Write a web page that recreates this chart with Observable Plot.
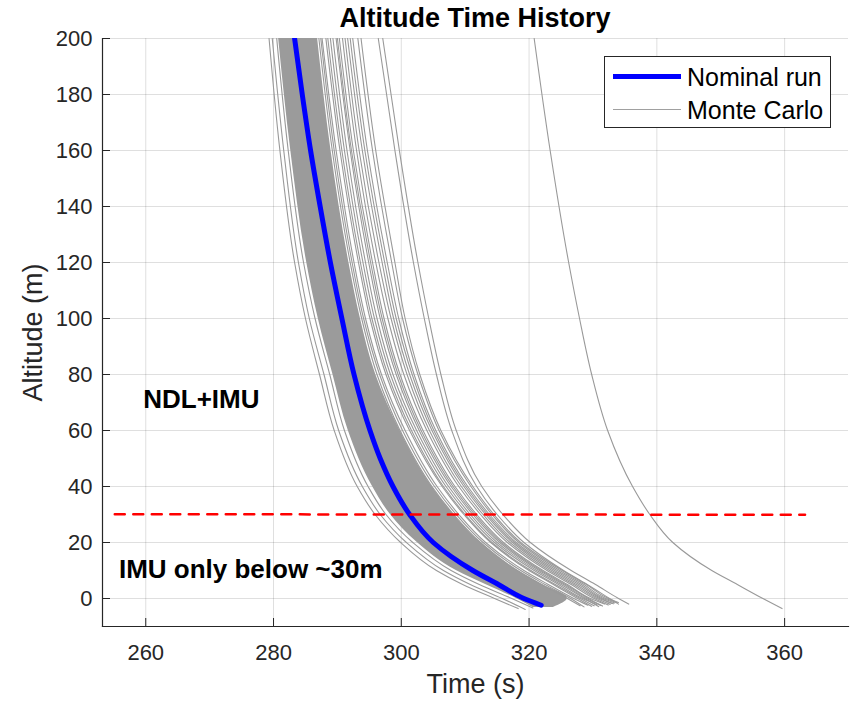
<!DOCTYPE html>
<html>
<head>
<meta charset="utf-8">
<script src="https://cdn.jsdelivr.net/npm/d3@7"></script>
<script src="https://cdn.jsdelivr.net/npm/@observablehq/plot@0.6"></script>
<style>
  body { margin: 0; background: #fff; }
  #wrap { position: relative; width: 854px; height: 702px; font-family: "Liberation Sans", Arial, Helvetica, sans-serif; }
  #chart { position: absolute; left: 0; top: 0; }
  #title { position: absolute; left: 102px; width: 746px; top: 5px; text-align: center; font-weight: bold; font-size: 27px; line-height: 27px; color: #000; }
  #legend { position: absolute; left: 604px; top: 56px; width: 227px; height: 72px; box-sizing: border-box; border: 1px solid #262626; background: #fff; }
  .lg-line { position: absolute; }
  .lg-text { position: absolute; font-size: 25px; line-height: 25px; color: #000; white-space: nowrap; }
</style>
</head>
<body>
<div id="wrap">
  <div id="chart"></div>
  <div id="title"></div>
  <div id="legend"></div>
</div>
<script>
// ---- Data ----
const titleText = "Altitude Time History";
const xLabel = "Time (s)";
const yLabel = "Altitude (m)";
const xTicks = [260, 280, 300, 320, 340, 360];
const yTicks = [0, 20, 40, 60, 80, 100, 120, 140, 160, 180, 200];
const xDomain = [253.23, 370];
const yDomain = [-10, 200];

// Nominal run
const nominalTime = [283.3, 284.5, 285.8, 287.3, 288.9, 290.7, 292.6, 295.1, 296.7, 298.7, 301.3, 305.0, 307.8, 311.2, 315.2, 319.2, 321.9];
const nominalAlt  = [200, 180, 160, 140, 120, 100, 80, 60, 50, 40, 30, 20, 15, 10, 5, 0, -2.4];

// Monte Carlo: densely packed core of runs (left / right edge of the solid band)
const bandAlt   = [200, 160, 120, 100, 80, 60, 40, 30, 20, 10, 5, 0, -3.2];
const bandLeft  = [280.8, 282.7, 285.2, 287.0, 289.3, 291.7, 295.5, 298.3, 302.5, 308.6, 313.2, 318.0, 320.6];
const bandRight = [286.9, 289.0, 291.8, 293.6, 296.0, 299.8, 304.8, 308.2, 312.4, 318.2, 322.0, 326.0, 323.8];

// Monte Carlo: individually visible runs, time at each altitude level
const mcAltLevels = [200, 160, 120, 100, 80, 60, 40, 30, 20, 10, 5, 0];
const mcTimes = [
  [279.3, 281.0, 283.3, 285.0, 287.2, 289.5, 293.1, 295.9, 299.9, 305.5, 309.6, 314.6],
  [279.8, 281.6, 283.9, 285.6, 287.9, 290.2, 293.9, 296.7, 300.8, 306.6, 310.8, 315.8],
  [280.5, 282.3, 284.7, 286.5, 288.8, 291.1, 294.8, 297.6, 301.8, 307.8, 312.2, 317.3],
  [287.1, 289.2, 292.0, 293.8, 296.2, 299.8, 304.8, 308.2, 312.4, 318.2, 322.0, 326.0],
  [287.4, 289.5, 292.3, 294.1, 296.6, 300.2, 305.2, 308.6, 312.8, 318.7, 322.5, 326.5],
  [287.6, 289.8, 292.6, 294.4, 296.9, 300.6, 305.6, 309.0, 313.2, 319.2, 323.0, 327.0],
  [288.2, 290.4, 293.3, 295.1, 297.6, 301.3, 306.4, 309.8, 314.0, 320.0, 323.8, 327.6],
  [288.5, 290.7, 293.6, 295.4, 297.9, 301.6, 306.6, 310.0, 314.2, 320.3, 324.1, 328.0],
  [288.9, 291.1, 294.0, 295.8, 298.3, 302.0, 307.0, 310.4, 314.6, 320.8, 324.6, 328.4],
  [289.3, 291.5, 294.4, 296.2, 298.7, 302.4, 307.4, 310.8, 315.0, 321.2, 325.0, 328.7],
  [289.8, 292.0, 294.9, 296.7, 299.2, 302.8, 307.8, 311.2, 315.4, 321.6, 325.4, 329.0],
  [290.0, 292.2, 295.2, 297.0, 299.5, 303.1, 308.1, 311.5, 315.7, 321.9, 325.7, 329.3],
  [290.3, 292.5, 295.5, 297.3, 299.8, 303.4, 308.4, 311.8, 316.0, 322.2, 326.0, 329.6],
  [290.8, 293.0, 296.0, 297.9, 300.4, 304.0, 309.0, 312.4, 316.6, 322.8, 326.6, 330.2],
  [291.2, 293.4, 296.5, 298.4, 300.9, 304.4, 309.4, 312.8, 317.0, 323.2, 327.0, 330.6],
  [291.6, 293.9, 297.0, 298.8, 301.3, 304.8, 309.8, 313.2, 317.4, 323.6, 327.4, 331.0],
  [292.0, 294.3, 297.4, 299.2, 301.7, 305.1, 310.1, 313.5, 317.7, 324.0, 327.8, 331.3],
  [292.4, 294.7, 297.8, 299.6, 302.0, 305.4, 310.4, 313.8, 318.0, 324.4, 328.2, 331.6],
  [293.2, 295.5, 298.5, 300.2, 302.6, 305.9, 310.9, 314.2, 318.4, 324.8, 328.6, 332.0],
  [293.7, 296.0, 299.0, 300.6, 302.9, 306.2, 311.2, 314.5, 318.7, 325.2, 329.0, 332.4],
  [296.4, 299.0, 301.9, 303.6, 305.5, 307.9, 311.8, 315.0, 319.2, 325.4, 329.1, 332.6],
  [297.1, 299.7, 302.6, 304.3, 306.2, 308.6, 312.6, 315.9, 320.2, 326.6, 330.4, 334.0],
  [320.8, 323.3, 326.2, 327.9, 329.8, 332.3, 336.2, 338.9, 342.5, 348.6, 352.6, 356.6]
];
const mcEndTime = [318.3, 319.4, 320.6, 328.0, 328.6, 329.2, 329.8, 330.2, 330.6, 330.9, 331.2, 331.5, 331.8, 332.4, 332.7, 333.0, 333.2, 333.4, 333.8, 334.0, 334.0, 335.6, 359.6];
const mcEndAlt  = [-3.6, -3.9, -3.4, -2.6, -3.0, -2.4, -2.8, -2.6, -2.2, -2.9, -2.5, -2.7, -2.0, -2.3, -2.1, -1.8, -1.9, -1.6, -1.5, -1.4, -2.0, -2.0, -3.6];

// Sensor switch threshold line
const thresholdTime = [255.15, 363.2];
const thresholdAlt  = [30.1, 29.9];

// Annotations
const noteText = ["NDL+IMU", "IMU only below ~30m"];
const noteTime = [259.6, 255.8];
const noteAlt  = [71.1, 10.4];

// Legend
const legendLabels = ["Nominal run", "Monte Carlo"];
const legendColors = ["#0000ff", "#a0a0a0"];

// ---- Build tables ----
const nominalRows = nominalTime.map((t, i) => ({t, a: nominalAlt[i]}));
const bandRows = bandAlt.map((a, i) => ({a, left: bandLeft[i], right: bandRight[i]}));
const mcRows = mcTimes.flatMap((ts, r) => [
  ...mcAltLevels.map((a, j) => ({run: r, t: ts[j], a})),
  {run: r, t: mcEndTime[r], a: mcEndAlt[r]}
]);
const thresholdRows = thresholdTime.map((t, i) => ({t, a: thresholdAlt[i]}));
const noteRows = noteText.map((s, i) => ({s, t: noteTime[i], a: noteAlt[i]}));

const W = 854, H = 702, ML = 102, MR = 6, MT = 38, MB = 76;
const frameW = W - ML - MR, frameH = H - MT - MB;
const tickLen = 8;
const gray = "#999999";

const chart = Plot.plot({
  width: W, height: H,
  marginLeft: ML, marginRight: MR, marginTop: MT, marginBottom: MB,
  style: {fontFamily: '"Liberation Sans", Arial, Helvetica, sans-serif', fontSize: "22px", color: "#262626", background: "transparent", overflow: "visible"},
  x: {domain: xDomain, label: null},
  y: {domain: yDomain, label: null},
  marks: [
    Plot.gridX(xTicks, {stroke: "#262626", strokeOpacity: 0.15, strokeWidth: 1}),
    Plot.gridY(yTicks, {stroke: "#262626", strokeOpacity: 0.15, strokeWidth: 1}),
    Plot.areaX(bandRows, {y: "a", x1: "left", x2: "right", fill: "#9b9b9b", curve: "monotone-y", clip: true}),
    Plot.line(mcRows, {x: "t", y: "a", z: "run", stroke: gray, strokeWidth: 1.1, curve: "monotone-y", clip: true}),
    Plot.line(nominalRows, {x: "t", y: "a", stroke: "#0000ff", strokeWidth: 5, curve: "monotone-y", clip: true}),
    Plot.line(thresholdRows, {x: "t", y: "a", stroke: "#ff0000", strokeWidth: 2.5, strokeDasharray: "10,8.5"}),
    Plot.text(noteRows, {x: "t", y: "a", text: "s", textAnchor: "start", lineAnchor: "middle", fontWeight: "bold", fontSize: 26, fill: "#000"}),
    Plot.axisX(xTicks, {tickSize: 0, tickPadding: 18, fontSize: 22, label: null}),
    Plot.axisY(yTicks, {tickSize: 0, tickPadding: 10, fontSize: 22, label: null}),
    Plot.tickX(xTicks, {x: d => d, stroke: "#262626", strokeWidth: 1, insetTop: frameH - tickLen}),
    Plot.tickY(yTicks, {y: d => d, stroke: "#262626", strokeWidth: 1, insetRight: frameW - tickLen}),
    Plot.frame({anchor: "left", stroke: "#262626", strokeWidth: 1.2}),
    Plot.frame({anchor: "bottom", stroke: "#262626", strokeWidth: 1.2}),
    Plot.text([xLabel], {text: d => d, frameAnchor: "bottom", dy: 58, textAnchor: "middle", lineAnchor: "middle", fontSize: 27, fill: "#262626"}),
    Plot.text([yLabel], {text: d => d, frameAnchor: "left", dx: -69, rotate: -90, textAnchor: "middle", lineAnchor: "middle", fontSize: 27, fill: "#262626"})
  ]
});
document.getElementById("chart").appendChild(chart);
document.getElementById("title").textContent = titleText;

// Legend (HTML overlay)
const legend = document.getElementById("legend");
const rowsCfg = [{top: 16.5, h: 5}, {top: 51.5, h: 1}];
const textTops = [7.8, 41];
legendLabels.forEach((lab, i) => {
  const ln = document.createElement("div");
  ln.className = "lg-line";
  ln.style.left = "8px";
  ln.style.width = "68px";
  ln.style.top = rowsCfg[i].top + "px";
  ln.style.height = rowsCfg[i].h + "px";
  ln.style.background = legendColors[i];
  legend.appendChild(ln);
  const tx = document.createElement("div");
  tx.className = "lg-text";
  tx.style.left = "82px";
  tx.style.top = textTops[i] + "px";
  tx.textContent = lab;
  legend.appendChild(tx);
});
</script>
</body>
</html>
